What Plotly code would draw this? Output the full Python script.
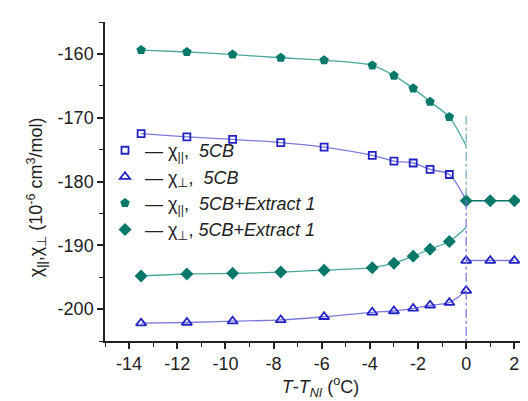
import plotly.graph_objects as go

# ---- data ----
x_nem = [-13.5, -11.6, -9.7, -7.7, -5.9, -3.9, -3.0, -2.2, -1.5, -0.7]
chi_par_5cb = [-172.5, -173.0, -173.4, -173.9, -174.6, -175.9, -176.8, -177.1, -178.1, -178.9]
chi_perp_5cb = [-202.2, -202.1, -201.9, -201.7, -201.2, -200.5, -200.3, -199.9, -199.4, -199.0]
chi_par_ext = [-159.4, -159.7, -160.1, -160.6, -161.0, -161.8, -163.4, -165.4, -167.5, -169.9]
chi_perp_ext = [-194.8, -194.5, -194.4, -194.2, -193.9, -193.5, -192.8, -191.7, -190.6, -189.4]

# values of the fitted curves at T = T_NI
x_tni = 0.0
fit_end_par_5cb = -183.0
fit_end_perp_5cb = -197.1
fit_end_par_ext = -174.4
fit_end_perp_ext = -187.2

# isotropic phase
x_iso = [0, 1, 2]
iso_5cb = [-192.4, -192.4, -192.4]
iso_ext = [-183.0, -183.0, -183.0]

x_ticks = [-14, -12, -10, -8, -6, -4, -2, 0, 2]
y_ticks = [-160, -170, -180, -190, -200]

BLUE = "#2323c4"
BLUE_LINE = "#7b7bdc"
TEAL = "#08786a"
TEAL_LINE = "#4aa89a"

fig = go.Figure()

def curve(xs, ys, end, color):
    fig.add_trace(go.Scatter(x=xs + [x_tni], y=ys + [end], mode="lines",
                             line=dict(color=color, width=1.3, shape="spline", smoothing=0.8),
                             showlegend=False, hoverinfo="skip"))

curve(x_nem, chi_par_5cb, fit_end_par_5cb, BLUE_LINE)
curve(x_nem, chi_perp_5cb, fit_end_perp_5cb, BLUE_LINE)
curve(x_nem, chi_par_ext, fit_end_par_ext, TEAL_LINE)
curve(x_nem, chi_perp_ext, fit_end_perp_ext, TEAL_LINE)

# isotropic lines
fig.add_trace(go.Scatter(x=x_iso, y=iso_5cb, mode="lines+markers",
                         line=dict(color=BLUE_LINE, width=1.5),
                         marker=dict(symbol="triangle-up-open", size=9, color=BLUE, line=dict(width=1.8)),
                         showlegend=False))
fig.add_trace(go.Scatter(x=x_iso, y=iso_ext, mode="lines+markers",
                         line=dict(color=TEAL, width=1.5),
                         marker=dict(symbol="diamond", size=10, color=TEAL),
                         showlegend=False))

leg_font = dict(family="Liberation Sans, Arial", size=18, color="#222")

fig.add_trace(go.Scatter(x=x_nem, y=chi_par_5cb, mode="markers",
                         marker=dict(symbol="square-open", size=7, color=BLUE, line=dict(width=1.8)),
                         name="— χ<sub>||</sub>,  <i>5CB</i>", legendgroup="a"))
fig.add_trace(go.Scatter(x=x_nem + [x_tni], y=chi_perp_5cb + [fit_end_perp_5cb], mode="markers",
                         marker=dict(symbol="triangle-up-open", size=9, color=BLUE, line=dict(width=1.8)),
                         name="— χ<sub>⊥</sub>,  <i>5CB</i>", legendgroup="b"))
fig.add_trace(go.Scatter(x=x_nem, y=chi_par_ext, mode="markers",
                         marker=dict(symbol="pentagon", size=10, color=TEAL),
                         name="— χ<sub>||</sub>,  <i>5CB+Extract 1</i>", legendgroup="c"))
fig.add_trace(go.Scatter(x=x_nem, y=chi_perp_ext, mode="markers",
                         marker=dict(symbol="diamond", size=10, color=TEAL),
                         name="— χ<sub>⊥</sub>, <i>5CB+Extract 1</i>", legendgroup="d"))

# vertical T_NI dash-dot line
fig.add_shape(type="line", x0=x_tni, x1=x_tni, y0=-169.7, y1=-183, xref="x", yref="y",
              line=dict(color="#6aa6b8", width=1.2, dash="dashdot"))
fig.add_shape(type="line", x0=x_tni, x1=x_tni, y0=-183, y1=-205, xref="x", yref="y",
              line=dict(color="#7070e0", width=1.2, dash="dashdot"))

axis_font = dict(family="Liberation Sans, Arial", size=18, color="#222")

fig.add_annotation(xref="paper", yref="paper", x=-0.16, y=0.451, xanchor="center", yanchor="middle",
                   textangle=-90, showarrow=False, font=axis_font,
                   text="χ<sub>||</sub>,χ<sub>⊥</sub> (10<sup>-6</sup> cm<sup>3</sup>/mol)")

fig.update_layout(
    width=528, height=401,
    margin=dict(l=97, r=0, t=14, b=68),
    plot_bgcolor="white", paper_bgcolor="white",
    font=axis_font,
    legend=dict(x=0.0, y=0.655, xanchor="left", yanchor="top",
                font=leg_font, bgcolor="rgba(0,0,0,0)", tracegroupgap=0,
                itemwidth=30),
    xaxis=dict(range=[-15, 2.9], tickmode="array", tickvals=x_ticks,
               ticktext=[str(v) for v in x_ticks], tickfont=axis_font,
               showgrid=False, zeroline=False, showline=True, linecolor="#222", linewidth=1.5,
               ticks="outside", ticklen=6, tickwidth=1.5, tickcolor="#222",
               minor=dict(dtick=1, ticks="outside", ticklen=4, tickwidth=1.2, tickcolor="#222"),
               title=dict(text="<i>T</i>-<i>T</i><sub><i>NI</i></sub> (<sup>o</sup>C)", standoff=6,
                          font=axis_font)),
    yaxis=dict(range=[-205, -155], tickmode="array", tickvals=y_ticks,
               ticktext=[str(v) for v in y_ticks], tickfont=axis_font,
               showgrid=False, zeroline=False, showline=True, linecolor="#222", linewidth=1.5,
               ticks="outside", ticklen=6, tickwidth=1.5, tickcolor="#222",
               minor=dict(dtick=5, tick0=-155, ticks="outside", ticklen=4, tickwidth=1.2, tickcolor="#222")),
)

fig.write_html("out.html")
